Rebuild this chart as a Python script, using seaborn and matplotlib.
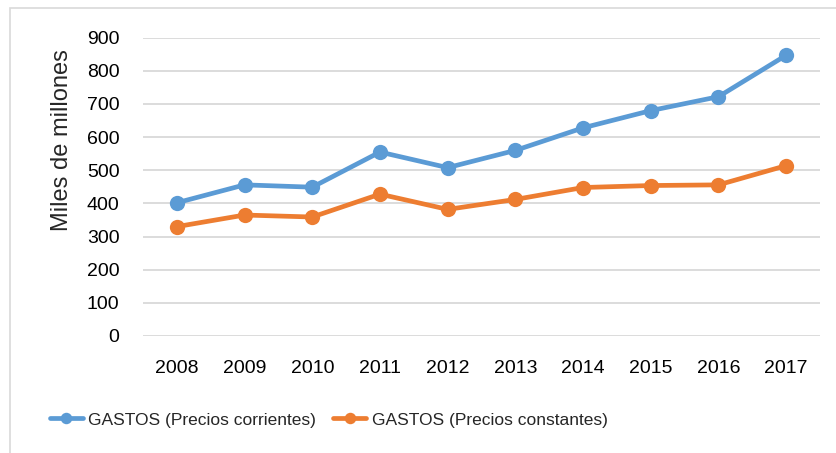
import pandas as pd
import matplotlib.pyplot as plt
import seaborn as sns
from matplotlib.patches import Rectangle

years = [2008, 2009, 2010, 2011, 2012, 2013, 2014, 2015, 2016, 2017]
corrientes = [402, 456, 449, 555, 508, 560, 628, 680, 722, 847]
constantes = [330, 365, 359, 428, 382, 412, 448, 454, 456, 514]
series_names = ["GASTOS (Precios corrientes)", "GASTOS (Precios constantes)"]
colors = ["#5B9BD5", "#ED7D31"]
y_ticks = [0, 100, 200, 300, 400, 500, 600, 700, 800, 900]

df = pd.DataFrame({
    "year": years * 2,
    "value": corrientes + constantes,
    "serie": [series_names[0]] * len(years) + [series_names[1]] * len(years),
})

sns.set_style("white")
plt.rcParams["font.family"] = ["Liberation Sans", "DejaVu Sans"]

fig = plt.figure(figsize=(8.37, 4.53), dpi=100)
ax = fig.add_axes([143 / 837, 1 - 336 / 453, 677 / 837, (336 - 37.7) / 453])

# borde del área del gráfico (solo se ven izquierda y arriba)
fig.patches.append(Rectangle((10 / 837, -0.1), 1.2, 1 - 8 / 453 + 0.1,
                             transform=fig.transFigure, fill=False,
                             edgecolor="#D9D9D9", linewidth=1.2))

sns.lineplot(data=df, x="year", y="value", hue="serie", palette=colors,
             marker="o", markersize=11, markeredgewidth=0, linewidth=3.4, ax=ax)

ax.set_xlim(2007.5, 2017.5)
ax.set_ylim(0, 900)
ax.set_xticks(years)
ax.set_xticklabels([str(y) for y in years])
ax.set_yticks(y_ticks)
ax.yaxis.grid(True, color="#D9D9D9", linewidth=1.3)
ax.set_axisbelow(True)
for s in ax.spines.values():
    s.set_visible(False)
ax.tick_params(axis="both", length=0, labelsize=14, colors="black")
ax.tick_params(axis="x", pad=17)
ax.tick_params(axis="y", pad=17)
ax.set_xlabel("")
ax.set_ylabel("")

fig.text(62 / 837, 1 - 140 / 453, "Miles de millones", rotation=90,
         ha="center", va="center", fontsize=17)

handles, labels = ax.get_legend_handles_labels()
ax.get_legend().remove()
fig.legend(handles, labels, ncol=2, loc="center left",
           bbox_to_anchor=(50 / 837, 1 - 420 / 453), frameon=False,
           fontsize=12.5, handlelength=1.9, handletextpad=0.3,
           columnspacing=1.0, borderpad=0, borderaxespad=0, markerscale=0.75)

fig.savefig("out.png", dpi=100)
